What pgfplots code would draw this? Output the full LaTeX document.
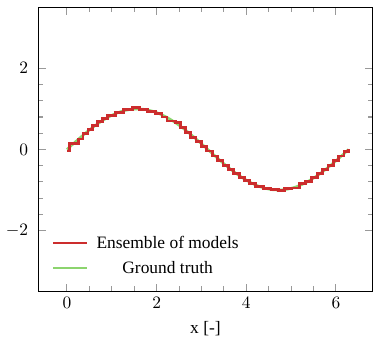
\documentclass[border=0pt]{standalone}
\usepackage{fontspec}
\setmainfont{Liberation Serif}
\usepackage{pgfplots}
\pgfplotsset{compat=1.18}
\definecolor{ensred}{RGB}{204,45,45}
\definecolor{gtgreen}{RGB}{140,212,110}
\begin{document}
\begin{tikzpicture}
\begin{axis}[
  scale only axis,
  width=192pt, height=163pt,
  xmin=-0.64, xmax=6.82,
  ymin=-3.5, ymax=3.5,
  xtick={0,2,4,6}, ytick={-2,0,2},
  minor x tick num=3, minor y tick num=4,
  tick style={gray!80, line width=0.6pt},
  axis line style={black, line width=0.6pt},
  yticklabel style={xshift=-2.3pt},
  xlabel={x [-]},
  xlabel style={yshift=-0.5pt},
  legend style={at={(0.025,0.03)}, anchor=south west, draw=none, fill=none, row sep=1.8pt,
    nodes={inner xsep=5pt}},
  legend cell align=center,
  legend image code/.code={\draw[#1] (0cm,0cm) -- (0.68cm,0cm);},
]
\addlegendimage{ensred, line width=1.1pt}
\addlegendentry{Ensemble of models}
\addlegendimage{gtgreen, line width=1.1pt}
\addlegendentry{Ground truth}
\addplot[gtgreen, line width=1.5pt, forget plot] coordinates {
(0,0) (0.1,0.0998) (0.2,0.1987) (0.3,0.2955) (0.4,0.3894) (0.5,0.4794)
(0.6,0.5646) (0.7,0.6442) (0.8,0.7174) (0.9,0.7833) (1.0,0.8415)
(1.1,0.8912) (1.2,0.9320) (1.3,0.9636) (1.4,0.9854) (1.5,0.9975)
(1.6,0.9996) (1.7,0.9917) (1.8,0.9738) (1.9,0.9463) (2.0,0.9093)
(2.1,0.8632) (2.2,0.8085) (2.3,0.7457) (2.4,0.6755) (2.5,0.5985)
(2.6,0.5155) (2.7,0.4274) (2.8,0.3350) (2.9,0.2392) (3.0,0.1411)
(3.1,0.0416) (3.2,-0.0584) (3.3,-0.1577) (3.4,-0.2555) (3.5,-0.3508)
(3.6,-0.4425) (3.7,-0.5298) (3.8,-0.6119) (3.9,-0.6878) (4.0,-0.7568)
(4.1,-0.8183) (4.2,-0.8716) (4.3,-0.9162) (4.4,-0.9516) (4.5,-0.9775)
(4.6,-0.9937) (4.7,-0.9999) (4.8,-0.9962) (4.9,-0.9825) (5.0,-0.9589)
(5.1,-0.9258) (5.2,-0.8835) (5.3,-0.8323) (5.4,-0.7728) (5.5,-0.7055)
(5.6,-0.6313) (5.7,-0.5507) (5.8,-0.4646) (5.9,-0.3739) (6.0,-0.2794)
(6.1,-0.1822) (6.2,-0.0831) (6.2832,0)
};
\addplot[ensred, line width=1.6pt, const plot mark left, forget plot] coordinates {
(0.0,-0.04) (0.05,0.15) (0.25,0.26) (0.36,0.40) (0.47,0.50) (0.57,0.60)
(0.68,0.68) (0.79,0.76) (0.91,0.84) (1.08,0.92) (1.27,0.98) (1.47,1.03)
(1.62,0.98) (1.80,0.93) (1.98,0.88) (2.12,0.80) (2.23,0.70) (2.42,0.66)
(2.53,0.54) (2.64,0.42) (2.75,0.30) (2.88,0.20) (3.00,0.08) (3.12,-0.04)
(3.24,-0.16) (3.36,-0.28)
(3.48,-0.39) (3.60,-0.49) (3.72,-0.60) (3.84,-0.69) (3.96,-0.77) (4.08,-0.84)
(4.20,-0.92) (4.38,-0.96) (4.55,-0.99) (4.72,-1.02) (4.85,-0.97) (5.00,-0.95)
(5.18,-0.84) (5.32,-0.78) (5.45,-0.70) (5.58,-0.60) (5.70,-0.50) (5.82,-0.39)
(5.94,-0.28) (6.06,-0.16) (6.18,-0.05) (6.28,0.0)
};
\end{axis}
\path (current bounding box.north east) -- ++(1pt,4pt);
\end{tikzpicture}
\end{document}
